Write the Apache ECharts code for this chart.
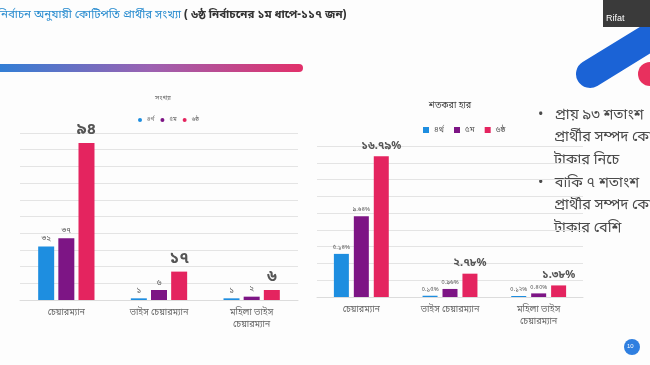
<!DOCTYPE html>
<html>
<head>
<meta charset="utf-8">
<script src="https://cdn.jsdelivr.net/npm/echarts@6/dist/echarts.min.js"></script>
<style>
html,body{margin:0;padding:0;background:#fdfdfd;}
#c{width:650px;height:365px;}
</style>
</head>
<body>
<div id="c"></div>
<script>
// ---- data ----
const categories = ['চেয়ারম্যান', 'ভাইস চেয়ারম্যান', 'মহিলা ভাইস\nচেয়ারম্যান'];
const seriesNames = ['৪র্থ', '৫ম', '৬ষ্ঠ'];
const countFourth = [32, 1, 1];
const countFifth = [37, 6, 2];
const countSixth = [94, 17, 6];
const pctFourth = [5.14, 0.15, 0.12];
const pctFifth = [9.64, 0.96, 0.43];
const pctSixth = [16.79, 2.78, 1.38];
const leftTitle = 'সংখ্যা';
const rightTitle = 'শতকরা হার';
const headerBlue = 'নির্বাচন অনুযায়ী কোটিপতি প্রার্থীর সংখ্যা ';
const headerDark = '( ৬ষ্ঠ নির্বাচনের ১ম ধাপে-১১৭ জন)';
const bulletLines = ['প্রায় ৯৩ শতাংশ', 'প্রার্থীর সম্পদ কোটি', 'টাকার নিচে', 'বাকি ৭ শতাংশ', 'প্রার্থীর সম্পদ কোটি', 'টাকার বেশি'];

const colors = ['#1e8ee0', '#7d1585', '#e4245f'];
const FONT = '"Noto Sans Bengali","Noto Serif Bengali","Lohit Bengali","Noto Sans",sans-serif';
const bnDigits = '০১২৩৪৫৬৭৮৯';
function bn(s) { return String(s).replace(/[0-9]/g, d => bnDigits[+d]); }

const chart = echarts.init(document.getElementById('c'));

function mkSeries(name, data, idx, g, pct, big) {
  return {
    name: name, type: 'bar', xAxisIndex: g, yAxisIndex: g,
    data: data, barWidth: g === 0 ? 16 : 15, barGap: g === 0 ? '26%' : '33%',
    itemStyle: { color: colors[idx] },
    label: {
      show: true, position: 'top', distance: big ? 4 : 3,
      fontFamily: FONT, color: '#555',
      fontSize: big ? (g === 0 ? 16 : 11) : (g === 0 ? 8 : 6),
      fontWeight: big ? 'bold' : 'normal',
      formatter: p => bn(pct ? p.value.toFixed(2) + '%' : p.value)
    }
  };
}

const gridLine = { show: true, lineStyle: { color: '#e4e4e4', width: 1 } };

chart.setOption({
  animation: false,
  backgroundColor: '#fdfdfd',
  textStyle: { fontFamily: FONT },
  title: [
    { text: leftTitle, left: 158, top: 90, textAlign: 'center',
      textStyle: { fontSize: 7, color: '#666', fontWeight: 'normal', fontFamily: FONT } },
    { text: rightTitle, left: 445, top: 97, textAlign: 'center',
      textStyle: { fontSize: 9, color: '#444', fontWeight: 'normal', fontFamily: FONT } }
  ],
  legend: [
    { data: seriesNames.map(n => ({ name: n })), left: 133, top: 112, itemWidth: 4, itemHeight: 4, itemGap: 6,
      icon: 'circle', textStyle: { fontSize: 6, color: '#666', fontFamily: FONT }, selectedMode: false },
    { data: ['৪র্থ ', '৫ম ', '৬ষ্ঠ '], left: 418, top: 121, itemWidth: 6, itemHeight: 6, itemGap: 8,
      icon: 'rect', textStyle: { fontSize: 8, color: '#555', fontFamily: FONT }, selectedMode: false }
  ],
  grid: [
    { left: 20, right: 352, top: 133, bottom: 65 },
    { left: 317, right: 67, top: 146, bottom: 68 }
  ],
  xAxis: [0, 1].map(g => ({
    type: 'category', gridIndex: g, data: categories,
    axisLine: { show: true, lineStyle: { color: '#dcdcdc' } }, axisTick: { show: false },
    axisLabel: { fontSize: 9, color: '#666', fontFamily: FONT, margin: 7, lineHeight: 12 }
  })),
  yAxis: [
    { type: 'value', gridIndex: 0, min: 0, max: 100, interval: 10, axisLabel: { show: false },
      axisLine: { show: false }, axisTick: { show: false }, splitLine: gridLine },
    { type: 'value', gridIndex: 1, min: 0, max: 18, interval: 2, axisLabel: { show: false },
      axisLine: { show: false }, axisTick: { show: false }, splitLine: gridLine }
  ],
  series: [
    mkSeries(seriesNames[0], countFourth, 0, 0, false, false),
    mkSeries(seriesNames[1], countFifth, 1, 0, false, false),
    mkSeries(seriesNames[2], countSixth, 2, 0, false, true),
    mkSeries('৪র্থ ', pctFourth, 0, 1, true, false),
    mkSeries('৫ম ', pctFifth, 1, 1, true, false),
    mkSeries('৬ষ্ঠ ', pctSixth, 2, 1, true, true)
  ],
  graphic: [
    { type: 'text', left: -2, top: 10, style: {
        text: '{b|' + headerBlue + '}{d|' + headerDark + '}',
        rich: {
          b: { fontSize: 11.5, fill: '#2a8ccf', fontFamily: FONT },
          d: { fontSize: 11.5, fill: '#333', fontFamily: FONT, fontWeight: 'bold' }
        } } },
    { type: 'rect', shape: { x: -5, y: 64, width: 308, height: 8, r: 4 },
      style: { fill: new echarts.graphic.LinearGradient(0, 0, 1, 0, [
        { offset: 0, color: '#2f7fd6' }, { offset: 0.5, color: '#9b62b2' }, { offset: 1, color: '#e2306a' }]) } },
    // top-right decoration
    { type: 'line', shape: { x1: 590, y1: 74, x2: 665, y2: 28 },
      style: { stroke: '#1b63d6', lineWidth: 28, lineCap: 'round' } },
    { type: 'circle', shape: { cx: 650, cy: 74, r: 12 }, style: { fill: '#e8305e' } },
    { type: 'rect', shape: { x: 603, y: 0, width: 47, height: 27 }, style: { fill: '#3a3a3a' } },
    { type: 'text', left: 606, top: 14, style: { text: 'Rifat', fontSize: 9, fill: '#fff', fontFamily: 'Liberation Sans' } },
    // bullets
    ...bulletLines.map((t, i) => ({
      type: 'text', left: i % 3 === 0 ? 538 : 554, top: [109, 131, 154, 177, 199, 222][i],
      style: { text: (i % 3 === 0 ? '•   ' : '') + t, fontSize: 14.5, fill: '#4a4a4a', fontFamily: FONT }
    })),
    { type: 'circle', shape: { cx: 632, cy: 347, r: 8 }, style: { fill: '#2f7fe0' } },
    { type: 'text', left: 627, top: 343, style: { text: '10', fontSize: 6, fill: '#fff', fontFamily: 'Liberation Sans' } }
  ]
});
</script>
</body>
</html>
